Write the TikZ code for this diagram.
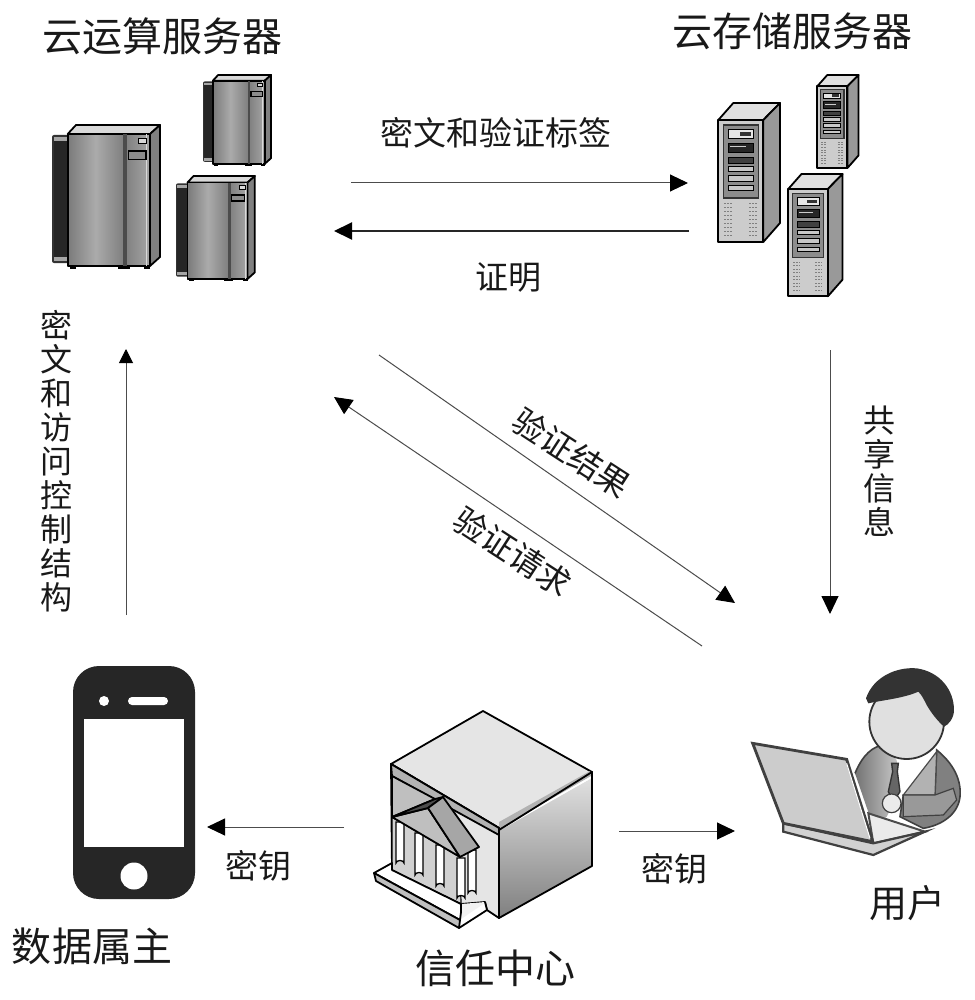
\documentclass[tikz,border=0pt]{standalone}
\usepackage{fontspec}
\setmainfont{Noto Sans CJK SC}
\usetikzlibrary{arrows.meta}
\definecolor{ink}{gray}{0.1}
\tikzset{
  thinarrow/.style={draw=black!70,line width=1pt,-{Triangle[length=18pt,width=17pt,color=black]}},
  thickarrow/.style={draw=black!85,line width=2pt,-{Triangle[length=18pt,width=17pt,color=black]}},
  heading/.style={font=\fontsize{40}{42}\selectfont,text=ink,inner sep=0pt},
  caption/.style={font=\fontsize{33}{35}\selectfont,text=ink,inner sep=0pt},
  vertcap/.style={font=\fontsize{32}{34}\selectfont,text=ink,inner sep=0pt,align=center},
  outline/.style={draw=black,line width=1.8pt,line join=round},
  pics/mainframe/.style={code={
    \fill[black!80,rounded corners=2pt] (0,10) rectangle (18,138);
    \fill[black!35] (2,12) rectangle (16,16);
    \fill[black!35] (2,132) rectangle (16,136);
    \fill[black!85] (2,16) rectangle (16,132);
    \path[outline,fill=black!15] (15.7,9)--(24,0)--(108,0)--(98,9)--cycle;
    \path[outline,fill=black!50] (98,9)--(108,0)--(108,132)--(98,141)--cycle;
    \shade[left color=black!52,right color=black!50,middle color=black!33] (15.7,9) rectangle (71.3,141);
    \shade[left color=black!50,right color=black!35] (73,9) rectangle (98,141);
    \draw[outline] (15.7,9) rectangle (98,141);
    \fill[black!70] (71,9) rectangle (75,141);
    \fill[black!15] (94,9) rectangle (95,141);
    \path[draw=black,line width=1pt,fill=black!15] (86.3,13.3) rectangle (94.7,18.3);
    \path[draw=black,line width=1.2pt,fill=black!45] (76.3,26) rectangle (94,34.3);
    \fill[black] (18,141) rectangle (24,144);
    \fill[black] (66,141) rectangle (78,144);
    \fill[black] (92,141) rectangle (98,144);
  }},
  pics/storagebox/.style={code={
    \path[outline,fill=black!12] (0.3,17)--(15.3,0)--(62,0)--(45.3,17)--cycle;
    \path[outline,fill=black!40] (45.3,17)--(62,0)--(62,120)--(45.3,139)--cycle;
    \path[outline,fill=black!20] (0.3,17) rectangle (45.3,139);
    \path[draw=black!80,line width=1.3pt,fill=black!45] (5.3,22) rectangle (40.3,95);
    \path[draw=black,line width=1pt,fill=black!10] (10.3,27) rectangle (35.3,35.3);
    \fill[black!80] (22,29) rectangle (33,33);
    \path[draw=black,line width=1pt,fill=black!85] (10.3,40.3) rectangle (35.3,49.7);
    \fill[black!20] (12,43) rectangle (28,44.5);
    \path[draw=black,line width=1pt,fill=black!75] (10.3,54.3) rectangle (35.3,60.3);
    \path[draw=black,line width=1pt,fill=black!22] (10.3,63.7) rectangle (35.3,68.7);
    \path[draw=black,line width=1pt,fill=black!22] (10.3,73) rectangle (35.3,78.7);
    \path[draw=black,line width=1pt,fill=black!22] (10.3,83) rectangle (35.3,88);
    \foreach \yy in {100,104,...,134}{
      \draw[black!50,line width=0.8pt,dash pattern=on 2pt off 1pt] (6,\yy)--(14,\yy);
      \draw[black!50,line width=0.8pt,dash pattern=on 2pt off 1pt] (31,\yy)--(39,\yy);
    }
  }},
}
\begin{document}
\begin{tikzpicture}[x=1pt,y=-1pt]
\useasboundingbox (0,0) rectangle (974,1000);
\fill[white] (0,0) rectangle (974,1000);

% compute servers
\pic at (52,125) {mainframe};
\pic[scale=0.63,transform shape] at (203,75) {mainframe};
\pic[scale=0.73,transform shape] at (176,176) {mainframe};

% storage servers
\pic at (718,103) {storagebox};
\pic[scale=0.67,transform shape] at (817,75) {storagebox};
\pic[scale=0.88,transform shape] at (788,174) {storagebox};

% phone
\fill[black!85,rounded corners=26pt] (73,666) rectangle (195,899);
\fill[white] (84,719) rectangle (184,847);
\fill[white] (104,701) circle (5);
\fill[white,rounded corners=4pt] (128,697) rectangle (168,705);
\fill[white] (134,876) circle (13.5);

% trust centre building
\shade[top color=black!12,bottom color=black!50] (499,830)--(592,778)--(592,866)--(499,918)--cycle;
\path[outline,fill=black!10] (391,764)--(483,711)--(592,772)--(499,828)--cycle;
\fill[black!30] (499,822)--(590,771)--(591,776)--(499,829)--cycle;
\draw[white,line width=1.4pt] (501,829)--(590,778);
\draw[outline] (499,830)--(592,772)--(592,866)--(499,918)--cycle;
\path[outline,fill=black!10] (391,764)--(499,828)--(499,918)--(487,910)--(485,902)--(461,904)--(392,870)--cycle;
\path[outline,fill=black!30] (391,764)--(499,828)--(499,835)--(392,776)--cycle;
\path[outline,fill=black!25] (392,776)--(435,799)--(392,817)--cycle;
\path[draw=black,line width=1.2pt,fill=black!18] (392,817)--(460,857)--(461,904)--(392,870)--cycle;
\foreach \cxa/\cta/\cba in {400/822/865,419/833/877,440/845/888,461/858/900,472/850/895}{
  \path[draw=black,line width=1.3pt,fill=white] (\cxa-4,\cta)--(\cxa-4,\cba-2) arc[start angle=180,end angle=360,x radius=4,y radius=2.5]--(\cxa+4,\cta)--cycle;
}
\path[outline,fill=black!25] (392,817)--(428,808)--(460,857)--cycle;
\path[outline,fill=black!70] (392,817)--(435,799)--(443,797)--(428,808)--cycle;
\path[outline,fill=black!35] (443,797)--(479,847)--(460,857)--(428,808)--cycle;
\path[draw=none,fill=black!5] (461,904)--(485,902)--(487,910)--(460,920)--cycle;
\path[draw=none,fill=white] (460,920)--(485,903)--(487,910)--(459,928)--cycle;
\draw[outline] (485,902)--(487,910)--(459,928);
\path[outline,fill=white] (374,873)--(392,863)--(392,870)--(461,904)--(461,912)--(460,920)--cycle;
\path[outline,fill=black!25] (374,873)--(460,920)--(459,928)--(376,881)--cycle;

% person with laptop
\begin{scope}[shift={(740,660)},x=0.3333pt,y=-0.3333pt]
  \shade[left color=black!55,right color=black!20] (345,340) .. controls (370,280) and (400,260) .. (430,255) -- (470,300) -- (480,395) -- (440,470) -- (400,500) -- cycle;
  \draw[black!75,line width=1.6pt] (345,340) .. controls (370,280) and (400,260) .. (430,255);
  \path[draw=black!75,line width=1.6pt,fill=black!50] (590,270) .. controls (640,310) and (665,360) .. (660,410) .. controls (655,460) and (610,495) .. (550,505) -- (480,470) -- (490,405) -- (585,405) -- cycle;
  \path[draw=black!70,line width=1.2pt,fill=black!30] (590,275)--(585,405)--(490,405)--cycle;
  \path[fill=white] (490,320)--(575,290)--(480,390)--cycle;
  \path[draw=black!80,line width=1.4pt,fill=black!60] (455,310)--(475,310)--(472,335)--(480,395)--(460,425)--(445,395)--(458,335)--cycle;
  \path[draw=black!75,line width=1.2pt,fill=black!40] (490,405)--(585,405)--(640,385)--(650,420)--(610,465)--(490,470)--cycle;
  \path[draw=black!75,line width=1.2pt,fill=black!8] (455,430) circle (28);
  \path[draw=black!80,line width=1.8pt,fill=black!12] (500,185) circle (112);
  \fill[black!80] (378,115) .. controls (400,50) and (470,20) .. (530,25) .. controls (600,35) and (642,90) .. (642,150) .. controls (642,175) and (625,195) .. (612,200) .. controls (590,180) and (575,160) .. (560,135) .. controls (550,115) and (545,105) .. (535,95) .. controls (490,115) and (430,120) .. (385,130) -- cycle;
  \path[draw=black!70,line width=2pt,fill=black!8] (385,460)--(555,515)--(400,550)--cycle;
  \path[draw=black!75,line width=2.2pt,fill=black!18] (130,490)--(130,515)--(400,585)--(555,515)--(400,550)--cycle;
  \path[draw=black!75,line width=2.8pt,fill=black!20] (38,250)--(320,298)--(398,545)--(130,490)--cycle;
  \draw[white,line width=1pt] (320,310)--(390,535);
\end{scope}

% free ends of the connectors
\coordinate (fromComputeA) at (351,183);
\coordinate (toStorageA) at (688,183);
\coordinate (fromStorageB) at (689,231);
\coordinate (toComputeB) at (334,231);
\coordinate (fromStorageC) at (830,350);
\coordinate (toUserC) at (830,614);
\coordinate (fromComputeD) at (379,355);
\coordinate (toUserD) at (735,603);
\coordinate (fromUserE) at (702,646);
\coordinate (toComputeE) at (334,397);
\coordinate (fromOwnerF) at (126,615);
\coordinate (toComputeF) at (126,349);
\coordinate (fromTrustG) at (344,827);
\coordinate (toOwnerG) at (207,827);
\coordinate (fromTrustH) at (619,831);
\coordinate (toUserH) at (735,831);

\draw[thinarrow] (fromComputeA) -- (toStorageA);
\draw[thickarrow] (fromStorageB) -- (toComputeB);
\draw[thinarrow] (fromStorageC) -- (toUserC);
\draw[thinarrow] (fromComputeD) -- (toUserD);
\draw[thinarrow] (fromUserE) -- (toComputeE);
\draw[thinarrow,-{Triangle[length=14pt,width=14pt,color=black]}] (fromOwnerF) -- (toComputeF);
\draw[thinarrow] (fromTrustG) -- (toOwnerG);
\draw[thinarrow] (fromTrustH) -- (toUserH);

% labels
\node[heading] (computeTitle) at (162,36) {云运算服务器};
\node[heading] (storageTitle) at (792,31) {云存储服务器};
\node[heading] (ownerTitle) at (92,946) {数据属主};
\node[heading] (trustTitle) at (495,968) {信任中心};
\node[heading,font=\fontsize{38}{40}\selectfont] (userTitle) at (907,903) {用户};
\node[caption] (tagLabel) at (496,133) {密文和验证标签};
\node[caption] (proofLabel) at (508,278) {证明};
\node[caption] (keyLeft) at (258,866) {密钥};
\node[caption] (keyRight) at (674,869) {密钥};
\node[caption,rotate=-33] (resultLabel) at (572,453) {验证结果};
\node[caption,rotate=-33] (requestLabel) at (513,552) {验证请求};
\node[vertcap] (shareLabel) at (879,471) {共\\享\\信\\息};
\node[vertcap] (cipherLabel) at (56,461) {密\\文\\和\\访\\问\\控\\制\\结\\构};
\end{tikzpicture}
\end{document}
